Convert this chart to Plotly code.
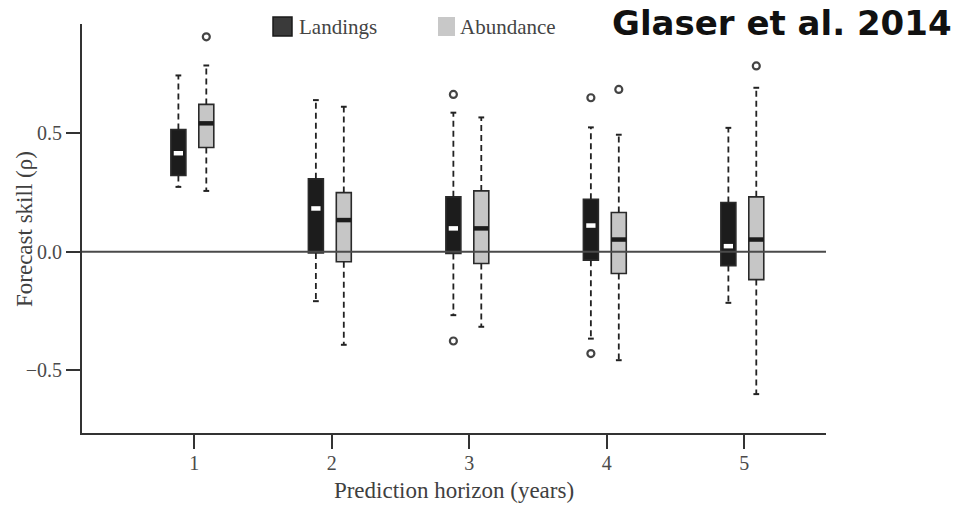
import plotly.graph_objects as go

# ---------------- data ----------------
horizons = [1, 2, 3, 4, 5]
tick_labels = ["1", "2", "3", "4", "5"]

land_upper = [0.744, 0.640, 0.587, 0.525, 0.523]
land_q3 = [0.516, 0.308, 0.232, 0.222, 0.208]
land_med = [0.416, 0.183, 0.099, 0.111, 0.024]
land_q1 = [0.322, -0.005, -0.007, -0.035, -0.058]
land_lower = [0.274, -0.208, -0.267, -0.366, -0.215]
land_out_h = [3, 3, 4, 4]
land_out_y = [0.664, -0.376, 0.650, -0.429]

abun_upper = [0.786, 0.612, 0.567, 0.494, 0.692]
abun_q3 = [0.622, 0.250, 0.257, 0.166, 0.232]
abun_med = [0.542, 0.134, 0.099, 0.052, 0.052]
abun_q1 = [0.440, -0.042, -0.049, -0.091, -0.117]
abun_lower = [0.257, -0.392, -0.316, -0.457, -0.600]
abun_out_h = [1, 4, 5]
abun_out_y = [0.907, 0.685, 0.784]

y_tickvals = [-0.5, 0.0, 0.5]
y_ticktext = ["\u22120.5", "0.0", "0.5"]

# ---------------- styling ----------------
SERIF = "Liberation Serif, Times New Roman, serif"
BOX_W = 0.109
CAP_W = 0.042
OFF_L = -0.116
OFF_A = 0.087
X_RANGE = [0.183, 5.594]
Y_RANGE = [-0.764, 0.961]

# plot area in pixels (for paper conversions of legend / title)
ML, MR, MT, MB = 82, 135, 24, 74
W, H = 961, 507
PW, PH = W - ML - MR, H - MT - MB


def px_x(px):
    return (px - ML) / PW


def px_y(py):
    return (H - MB - py) / PH


fig = go.Figure()


def add_series(q1, med, q3, lo, up, out_h, out_y, off, fill, edge, med_color, med_frac):
    pos = [h + off for h in horizons]
    # whiskers (dashed)
    wx, wy = [], []
    for p, a, b, c, d in zip(pos, q3, up, q1, lo):
        wx += [p, p, None, p, p, None]
        wy += [a, b, None, c, d, None]
    fig.add_trace(go.Scatter(x=wx, y=wy, mode="lines",
                             line=dict(color="#222222", width=1.8, dash="6px,4px"),
                             hoverinfo="skip", showlegend=False))
    # caps
    cx, cy = [], []
    for p, b, d in zip(pos, up, lo):
        cx += [p - CAP_W / 2, p + CAP_W / 2, None, p - CAP_W / 2, p + CAP_W / 2, None]
        cy += [b, b, None, d, d, None]
    fig.add_trace(go.Scatter(x=cx, y=cy, mode="lines",
                             line=dict(color="#222222", width=2),
                             hoverinfo="skip", showlegend=False))
    # boxes
    fig.add_trace(go.Bar(x=pos, base=q1, y=[b - a for a, b in zip(q1, q3)],
                         width=BOX_W,
                         marker=dict(color=fill, line=dict(color=edge, width=1.6)),
                         hoverinfo="skip", showlegend=False))
    # medians
    mx, my = [], []
    hw = BOX_W * med_frac / 2
    for p, m in zip(pos, med):
        mx += [p - hw, p + hw, None]
        my += [m, m, None]
    fig.add_trace(go.Scatter(x=mx, y=my, mode="lines",
                             line=dict(color=med_color, width=4.5),
                             hoverinfo="skip", showlegend=False))
    # outliers
    fig.add_trace(go.Scatter(x=[h + off for h in out_h], y=out_y, mode="markers",
                             marker=dict(symbol="circle-open", size=7,
                                         color="#444444", line=dict(width=2.2, color="#444444")),
                             hoverinfo="skip", showlegend=False))


add_series(land_q1, land_med, land_q3, land_lower, land_upper, land_out_h, land_out_y,
           OFF_L, "#1c1c1c", "#2a2a2a", "#ffffff", 0.62)
add_series(abun_q1, abun_med, abun_q3, abun_lower, abun_upper, abun_out_h, abun_out_y,
           OFF_A, "#c6c6c6", "#2a2a2a", "#1c1c1c", 1.0)

shapes = [
    # zero reference line drawn above boxes
    dict(type="line", xref="paper", x0=0, x1=1, yref="y", y0=0, y1=0,
         line=dict(color="#4a4a4a", width=2), layer="above"),
    # legend swatches
    dict(type="rect", xref="paper", yref="paper",
         x0=px_x(273), x1=px_x(292), y0=px_y(36), y1=px_y(17),
         fillcolor="#3a3a3a", line=dict(color="#1a1a1a", width=1.5)),
    dict(type="rect", xref="paper", yref="paper",
         x0=px_x(438), x1=px_x(455), y0=px_y(36), y1=px_y(17),
         fillcolor="#c8c8c8", line=dict(width=0)),
]

annotations = [
    dict(text="Landings", xref="paper", yref="paper", x=px_x(297), y=px_y(27),
         xanchor="left", yanchor="middle", showarrow=False,
         font=dict(family=SERIF, size=21, color="#444444")),
    dict(text="Abundance", xref="paper", yref="paper", x=px_x(458), y=px_y(27),
         xanchor="left", yanchor="middle", showarrow=False,
         font=dict(family=SERIF, size=21, color="#444444")),
    dict(text="<b>Glaser et al. 2014</b>", xref="paper", yref="paper",
         x=px_x(610), y=px_y(23), xanchor="left", yanchor="middle", showarrow=False,
         font=dict(family="DejaVu Sans, sans-serif", size=34, color="#111111")),
    dict(text="Forecast skill (\u03c1)", xref="paper", yref="paper",
         x=px_x(25), y=px_y(229), xanchor="center", yanchor="middle",
         textangle=-90, showarrow=False,
         font=dict(family=SERIF, size=23, color="#404040")),
]

fig.update_layout(
    width=W, height=H,
    margin=dict(l=ML, r=MR, t=MT, b=MB, pad=0, autoexpand=False),
    paper_bgcolor="white", plot_bgcolor="white",
    barmode="overlay", showlegend=False, hovermode=False,
    shapes=shapes, annotations=annotations,
    xaxis=dict(range=X_RANGE, tickvals=horizons, ticktext=tick_labels,
               ticks="outside", ticklen=14, tickwidth=2, tickcolor="#333333",
               showline=True, linecolor="#333333", linewidth=2,
               showgrid=False, zeroline=False, automargin=False,
               ticklabelstandoff=-3,
               tickfont=dict(family=SERIF, size=20, color="#4a4a4a"),
               title=dict(text="Prediction horizon (years)", standoff=9,
                          font=dict(family=SERIF, size=23, color="#404040"))),
    yaxis=dict(range=Y_RANGE, tickvals=y_tickvals, ticktext=y_ticktext,
               ticks="outside", ticklen=14, tickwidth=2, tickcolor="#333333",
               showline=True, linecolor="#333333", linewidth=2,
               showgrid=False, zeroline=False, automargin=False,
               tickfont=dict(family=SERIF, size=20, color="#4a4a4a")),
)

fig.write_html(
    "out.html",
    config={"displayModeBar": False, "staticPlot": True},
    post_script="document.body.style.margin='0px';document.body.style.padding='0px';",
)
